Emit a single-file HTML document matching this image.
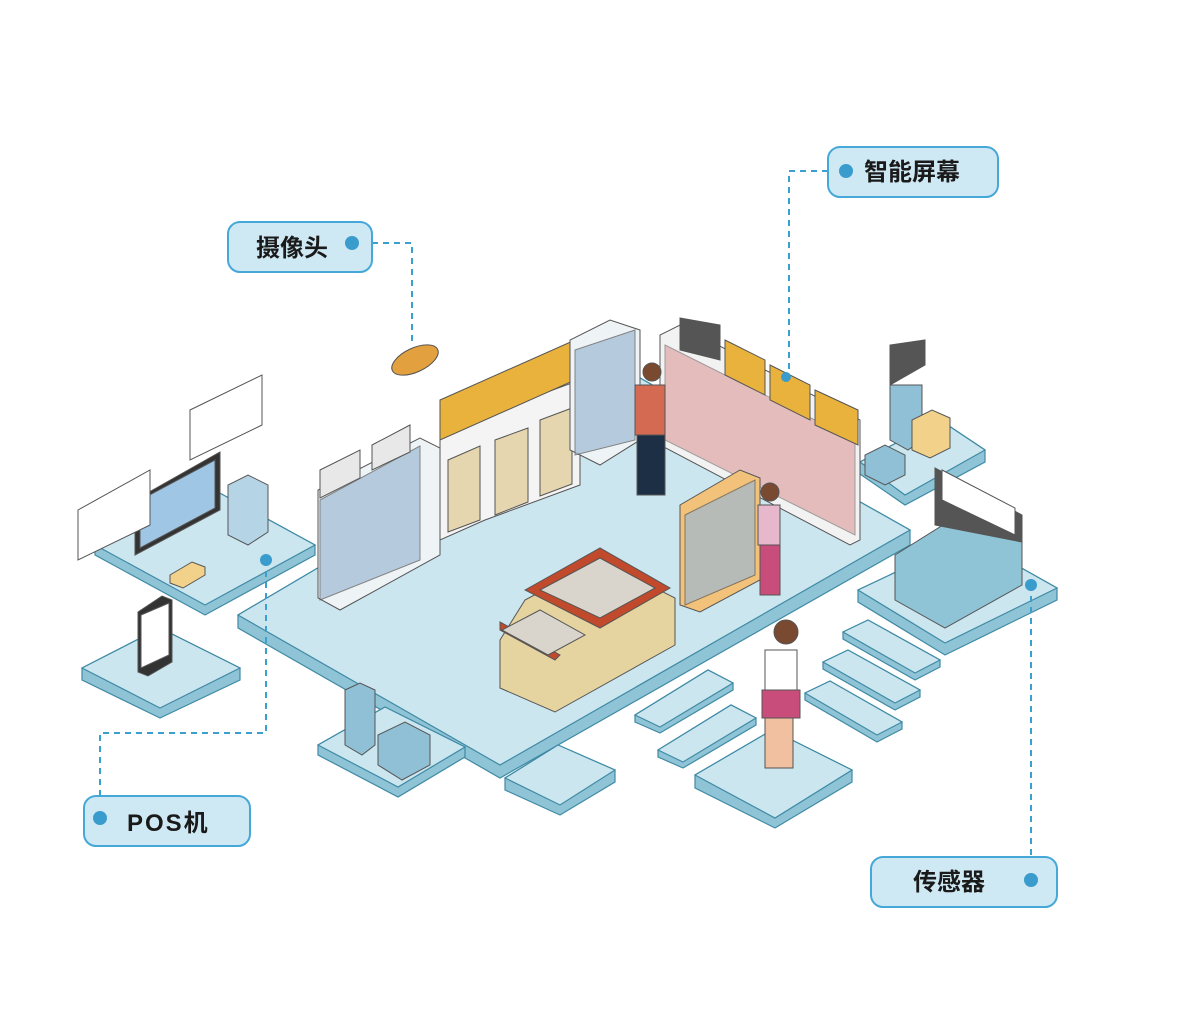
<!DOCTYPE html>
<html><head><meta charset="utf-8"><style>
html,body{margin:0;padding:0;background:#fff;}
svg{display:block}
.lb{font-family:"Liberation Sans","Noto Sans CJK SC",sans-serif;font-size:24px;font-weight:bold;fill:#1a1a1a}
</style></head><body>
<svg width="1194" height="1020" viewBox="0 0 1194 1020" xmlns="http://www.w3.org/2000/svg">
<rect width="1194" height="1020" fill="#fff"/>
<g stroke="#3f8aa5" stroke-width="1.2">
<!-- main platform -->
<polygon points="238,628 500,778 910,545 910,530 640,378 238,615" fill="#8fc3d6"/>
<polygon points="238,615 500,765 910,530 640,378" fill="#cbe6ef"/>
<!-- left desk platform -->
<polygon points="95,545 95,555 205,615 315,555 315,545 205,485" fill="#8fc3d6"/>
<polygon points="95,545 205,605 315,545 205,485" fill="#cbe6ef"/>
<!-- tablet platform -->
<polygon points="82,668 82,680 160,718 240,680 240,668 160,628" fill="#8fc3d6"/>
<polygon points="82,668 160,708 240,668 160,628" fill="#cbe6ef"/>
<!-- bottom left platform -->
<polygon points="318,745 318,755 398,797 465,757 465,747 385,707" fill="#8fc3d6"/>
<polygon points="318,745 398,787 465,747 385,707" fill="#cbe6ef"/>
<!-- bottom center small -->
<polygon points="505,778 505,790 560,815 615,782 615,770 558,745" fill="#8fc3d6"/>
<polygon points="505,778 560,805 615,770 558,745" fill="#cbe6ef"/>
<!-- girl platform -->
<polygon points="695,775 695,788 775,828 852,782 852,770 772,730" fill="#8fc3d6"/>
<polygon points="695,775 775,818 852,770 772,730" fill="#cbe6ef"/>
<!-- right stairs platform -->
<polygon points="858,590 858,602 945,655 1057,600 1057,588 968,538" fill="#8fc3d6"/>
<polygon points="858,590 945,643 1057,588 968,538" fill="#cbe6ef"/>
<!-- right upper platform -->
<polygon points="860,462 860,474 905,505 985,462 985,450 940,420" fill="#8fc3d6"/>
<polygon points="860,462 905,495 985,450 940,420" fill="#cbe6ef"/>
<!-- tiles -->
<polygon points="635,715 635,722 660,733 733,690 733,683 708,670" fill="#8fc3d6"/>
<polygon points="635,715 660,727 733,683 708,670" fill="#cbe6ef"/>
<polygon points="658,750 658,757 683,768 756,725 756,718 731,705" fill="#8fc3d6"/>
<polygon points="658,750 683,762 756,718 731,705" fill="#cbe6ef"/>
<polygon points="843,632 843,639 915,680 940,667 940,660 868,620" fill="#8fc3d6"/>
<polygon points="843,632 915,673 940,660 868,620" fill="#cbe6ef"/>
<polygon points="823,662 823,669 895,710 920,697 920,690 848,650" fill="#8fc3d6"/>
<polygon points="823,662 895,703 920,690 848,650" fill="#cbe6ef"/>
<polygon points="805,693 805,700 877,742 902,729 902,722 830,681" fill="#8fc3d6"/>
<polygon points="805,693 877,735 902,722 830,681" fill="#cbe6ef"/>
</g>
<!-- shelves left -->
<g stroke="#555" stroke-width="1">
<polygon points="318,490 318,598 340,610 440,555 440,448 420,438" fill="#eef3f6"/>
<polygon points="320,500 420,446 420,560 320,600" fill="#9fb9d3" opacity=".7"/>
<polygon points="320,470 360,450 360,478 320,498" fill="#e8e8e8"/>
<polygon points="372,445 410,425 410,452 372,470" fill="#e8e8e8"/>
<!-- fridges -->
<polygon points="440,430 440,540 485,520 580,485 580,380 485,415" fill="#f4f4f4"/>
<polygon points="448,460 480,446 480,520 448,532" fill="#e5d6b0"/>
<polygon points="495,440 528,428 528,502 495,515" fill="#e5d6b0"/>
<polygon points="540,420 572,408 572,484 540,496" fill="#e5d6b0"/>
<polygon points="440,400 575,340 575,380 440,440" fill="#e8b23c"/>
<!-- back shelves -->
<polygon points="570,340 570,450 600,465 640,440 640,330 610,320" fill="#eef3f6"/>
<polygon points="575,350 635,330 635,440 575,455" fill="#9fb9d3" opacity=".7"/>
<!-- right shelf long -->
<polygon points="660,335 660,445 850,545 860,540 860,420 680,325" fill="#f2f2f2"/>
<polygon points="665,345 855,440 855,535 665,440" fill="#d99090" opacity=".55"/>
<polygon points="680,318 720,325 720,360 680,350" fill="#555"/>
<polygon points="725,340 765,360 765,395 725,375" fill="#e8b23c"/>
<polygon points="770,365 810,385 810,420 770,400" fill="#e8b23c"/>
<polygon points="815,390 858,410 858,445 815,425" fill="#e8b23c"/>
<!-- front shelf -->
<polygon points="680,505 680,605 700,612 760,580 760,478 740,470" fill="#f2c27a"/>
<polygon points="685,515 755,480 755,575 685,605" fill="#9fb9d3" opacity=".7"/>
<!-- building -->
<polygon points="500,640 500,688 555,712 675,645 675,598 600,560 525,600" fill="#e6d4a0"/>
<polygon points="500,630 555,660 560,655 500,622" fill="#c14a2c"/>
<polygon points="525,590 600,548 670,588 600,628" fill="#c14a2c"/>
<polygon points="540,590 600,558 655,588 600,618" fill="#d9d4cc"/>
<polygon points="502,630 540,610 585,635 548,655" fill="#d9d4cc"/>
<!-- POS monitor -->
<polygon points="135,500 135,555 220,510 220,452" fill="#333"/>
<polygon points="140,500 140,548 215,508 215,460" fill="#9fc6e5"/>
<polygon points="78,510 78,560 150,525 150,470" fill="#fff"/>
<polygon points="190,410 190,460 262,425 262,375" fill="#fff"/>
<polygon points="228,485 228,535 248,545 268,532 268,485 248,475" fill="#b5d4e5"/>
<polygon points="170,575 170,583 183,588 205,575 205,567 192,562" fill="#f2d28a"/>
<!-- tablet -->
<polygon points="138,612 138,672 148,676 172,662 172,600 162,596" fill="#333"/>
<polygon points="141,615 141,668 169,655 169,603" fill="#fff"/>
<!-- cubes -->
<polygon points="345,690 345,745 362,755 375,745 375,690 360,683" fill="#8fc0d6"/>
<polygon points="378,735 378,765 402,780 430,765 430,735 405,722" fill="#8fc0d6"/>
<!-- stairs -->
<polygon points="895,585 895,600 945,628 1022,585 1022,530 975,505 895,555" fill="#8fc3d6"/>
<polygon points="935,525 935,468 1022,515 1022,542" fill="#555"/>
<polygon points="942,470 1015,508 1015,535 942,500" fill="#fff"/>
<polygon points="890,345 890,385 925,365 925,340" fill="#555"/>
<polygon points="890,385 890,440 908,450 922,440 922,385" fill="#8fc0d6"/>
<polygon points="912,420 912,450 930,458 950,448 950,418 932,410" fill="#f2d28a"/>
<polygon points="865,455 865,475 885,485 905,475 905,455 885,445" fill="#8fc0d6"/>
<!-- camera -->
<ellipse cx="415" cy="360" rx="25" ry="12" fill="#e2a03f" transform="rotate(-25 415 360)"/>
<!-- people -->
<rect x="635" y="385" width="30" height="50" fill="#d46a52"/>
<rect x="637" y="435" width="28" height="60" fill="#1d2f45"/>
<circle cx="652" cy="372" r="9" fill="#7a4a30"/>
<rect x="758" y="505" width="22" height="40" fill="#e7b8cc"/>
<rect x="760" y="545" width="20" height="50" fill="#c84d7a"/>
<circle cx="770" cy="492" r="9" fill="#7a4a30"/>
<rect x="765" y="650" width="32" height="40" fill="#fff"/>
<polygon points="762,690 800,690 800,718 762,718" fill="#c84d7a"/>
<rect x="765" y="718" width="28" height="50" fill="#f0c0a0"/>
<circle cx="786" cy="632" r="12" fill="#7a4a30"/>
</g>
<!-- dashed connectors -->
<g fill="none" stroke="#3aa0d0" stroke-width="2" stroke-dasharray="6,5">
<polyline points="372,243 412,243 412,345"/>
<polyline points="828,171 789,171 789,375"/>
<polyline points="266,560 266,733 100,733 100,800"/>
<polyline points="1031,585 1031,857"/>
</g>
<circle cx="266" cy="560" r="6" fill="#3a9ccc"/>
<circle cx="1031" cy="585" r="6" fill="#3a9ccc"/>
<circle cx="786" cy="377" r="5" fill="#3a9ccc"/>
<!-- labels -->
<g stroke="#45a8d8" stroke-width="2" fill="#cfe9f4">
<rect x="228" y="222" width="144" height="50" rx="12"/>
<rect x="828" y="147" width="170" height="50" rx="12"/>
<rect x="84" y="796" width="166" height="50" rx="12"/>
<rect x="871" y="857" width="186" height="50" rx="12"/>
</g>
<g fill="#3a9ccc">
<circle cx="352" cy="243" r="7"/><circle cx="846" cy="171" r="7"/>
<circle cx="100" cy="818" r="7"/><circle cx="1031" cy="880" r="7"/>
</g>
<text class="lb" x="256" y="256">摄像头</text>
<text class="lb" x="864" y="180">智能屏幕</text>
<text class="lb" x="127" y="831" style="letter-spacing:2px">POS机</text>
<text class="lb" x="913" y="890">传感器</text>
</svg>
</body></html>
